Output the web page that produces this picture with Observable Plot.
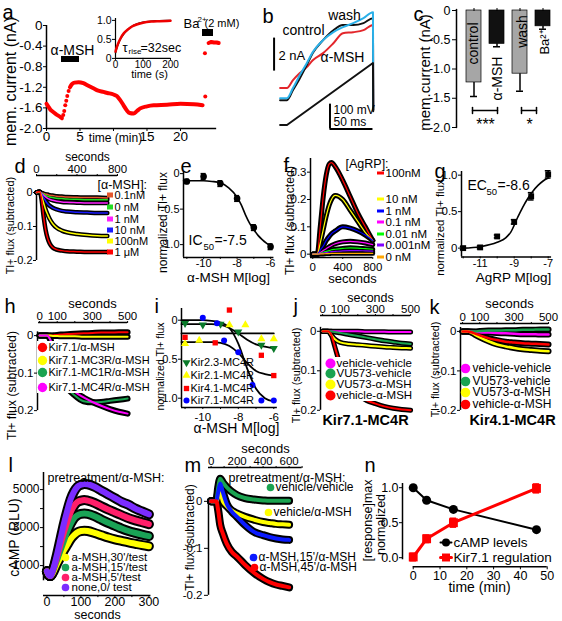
<!DOCTYPE html>
<html><head><meta charset="utf-8">
<script src="https://cdn.jsdelivr.net/npm/d3@7"></script>
<script src="https://cdn.jsdelivr.net/npm/@observablehq/plot@0.6"></script>
<style>
html,body{margin:0;padding:0;background:#fff;}
#root{position:relative;width:562px;height:621px;overflow:hidden;background:#fff;font-family:"Liberation Sans",Arial,sans-serif;}
</style></head>
<body><div id="root"></div>
<script>
// ================= DATA =================
// a: membrane current trace (min, nA)
const aT1 = [0,0.3,0.6,1,1.5,2,2.3];
const aI1 = [-1.52,-1.58,-1.64,-1.68,-1.73,-1.77,-1.8];
const aTgap = [2.5,2.65,2.8,2.95,3.1,3.3];
const aIgap = [-1.74,-1.66,-1.55,-1.46,-1.37,-1.27];
const aT2 = [3.5,3.8,4.2,4.8,5.5,6.1,7,7.6,8.5,9.1,10,10.5,11,11.5,12,12.4,13,13.5,14,15,16,18,20,22,23.3];
const aI2 = [-1.2,-1.14,-1.11,-1.1,-1.12,-1.16,-1.22,-1.26,-1.29,-1.31,-1.34,-1.37,-1.45,-1.55,-1.65,-1.7,-1.71,-1.66,-1.61,-1.57,-1.55,-1.54,-1.52,-1.53,-1.55];
const aTdots = [23.65,23.7];
const aIdots = [-0.54,-1.38];
const aTba = [24.2,24.6,25.0,25.4,25.7];
const aIba = [-0.34,-0.32,-0.33,-0.33,-0.34];
const aYTicks = [0,-0.4,-0.8,-1.2,-1.6,-2.0];
const aXTicks = [0,5,10,15,20];
const aXLabels = [0,5,15,20];
// a inset (s, normalized)
const aInT = [0,5,10,20,30,45,60,80,100,130,160,200];
const aInData = [0.18,0.3,0.4,0.55,0.66,0.76,0.84,0.9,0.94,0.97,0.98,0.99];
const aInFit = [0.15,0.28,0.38,0.53,0.64,0.76,0.84,0.91,0.95,0.98,0.99,1.0];
// b: ramp currents (ms, nA) and voltage (ms, mV)
const bT = [0,8,15,23,31,38,50,62,73,85,97,108,108.3];
const bControl = [0,0,0.61,1.33,2.12,2.85,3.64,4.24,4.55,4.55,4.67,4.97,-0.6];
const bWash = [0.12,0.12,0.73,1.52,2.24,2.91,3.64,4.12,4.42,4.67,4.97,5.33,-0.6];
const bMsh = [0.73,0.73,1.21,1.64,2.0,2.42,2.85,3.45,4.06,4.12,4.24,4.55,-0.6];
const bVT = [0,8,108,108.3];
const bVmV = [-150,-150,100,-95];
// c: bar chart
const cLabels = ["control","α-MSH","wash","Ba²⁺"];
const cMean = [-1.23,-0.57,-1.08,-0.27];
const cErr = [0.24,0.05,0.3,0.05];
const cTicks = [0,-0.5,-1.0,-1.5,-2.0];
// d: Tl+ flux, alpha-MSH doses
const dT = [0,30,50,70,90,110,130,160,200,250,300,400,500,600,700];
const dNames = ["0.1nM","0 nM","1 nM","10 nM","100nM","1 μM"];
const dVals = [
  [0,0.001,-0.001,-0.003,-0.005,-0.006,-0.008,-0.009,-0.011,-0.012,-0.013,-0.014,-0.015,-0.015,-0.016],
  [0,0.001,-0.002,-0.005,-0.008,-0.011,-0.013,-0.015,-0.017,-0.018,-0.019,-0.02,-0.021,-0.021,-0.021],
  [0,0.002,-0.003,-0.008,-0.013,-0.017,-0.02,-0.023,-0.026,-0.028,-0.029,-0.03,-0.031,-0.031,-0.031],
  [0,0.002,-0.005,-0.015,-0.025,-0.033,-0.039,-0.045,-0.05,-0.054,-0.056,-0.058,-0.059,-0.06,-0.06],
  [0,0.002,-0.01,-0.03,-0.05,-0.065,-0.078,-0.092,-0.104,-0.112,-0.117,-0.122,-0.125,-0.127,-0.128],
  [0,0.003,-0.02,-0.07,-0.11,-0.135,-0.15,-0.162,-0.168,-0.171,-0.173,-0.174,-0.175,-0.175,-0.175]
];
// e: dose response alpha-MSH
const eX = [-11,-10,-9,-8,-7,-6];
const eY = [-0.11,-0.04,-0.14,-0.35,-0.76,-1.03];
const eErr = [0.03,0.04,0.04,0.04,0.04,0.04];
const eFitX = [-11.2,-10,-9.5,-9,-8.5,-8,-7.75,-7.5,-7.25,-7,-6.75,-6.5,-6.25,-6];
const eFitY = [-0.1,-0.1,-0.11,-0.13,-0.2,-0.33,-0.44,-0.58,-0.7,-0.79,-0.87,-0.93,-0.98,-1.02];
// f: AgRP traces
const fT = [0,60,100,140,180,220,250,300,400,500,600,700,800];
const fNames = ["100nM","10 nM","1 nM","0.1 nM","0.01 nM","0.001nM","0 nM"];
const fVals = [
  [0,0,0.1,0.21,0.29,0.33,0.335,0.32,0.27,0.21,0.15,0.1,0.05],
  [0,0,0.04,0.09,0.14,0.18,0.2,0.215,0.2,0.16,0.12,0.08,0.05],
  [0,0,0.015,0.03,0.05,0.065,0.075,0.085,0.1,0.095,0.085,0.07,0.05],
  [0,0,0.006,0.013,0.02,0.027,0.032,0.038,0.045,0.047,0.045,0.041,0.035],
  [0,0,0.003,0.007,0.01,0.013,0.016,0.018,0.021,0.023,0.022,0.02,0.018],
  [0,0,0.002,0.004,0.006,0.008,0.009,0.01,0.012,0.013,0.013,0.012,0.011],
  [0,0,0.001,0.001,0.002,0.002,0.003,0.003,0.003,0.003,0.003,0.003,0.003]
];
// g: AgRP dose response
const gX = [-12,-11,-10,-9,-8,-7];
const gY = [0.0,0.01,0.16,0.36,0.71,1.01];
const gErr = [0.02,0.02,0.02,0.03,0.05,0.05];
const gFitX = [-12,-11,-10,-9.5,-9.2,-8.8,-8.5,-8.2,-7.9,-7.6,-7.3,-7];
const gFitY = [0.0,0.02,0.08,0.14,0.22,0.42,0.56,0.68,0.78,0.86,0.92,0.96];
// h
const hT = [0,40,60,80,100,130,160,200,250,300,350,400,450,500];
const hNames = ["Kir7.1/α-MSH","Kir7.1-MC3R/α-MSH","Kir7.1-MC1R/α-MSH","Kir7.1-MC4R/α-MSH"];
const hVals = [
  [0,0,0,0.001,0.002,0.003,0.004,0.005,0.006,0.007,0.008,0.008,0.009,0.009],
  [0,0,0,-0.001,-0.001,-0.002,-0.002,-0.002,-0.003,-0.003,-0.003,-0.003,-0.003,-0.003],
  [0,0,-0.01,-0.04,-0.07,-0.11,-0.14,-0.16,-0.175,-0.178,-0.177,-0.174,-0.171,-0.168],
  [0,0,-0.01,-0.035,-0.06,-0.1,-0.13,-0.15,-0.165,-0.177,-0.187,-0.196,-0.203,-0.208]
];
// i
const iNames = ["Kir2.3-MC4R","Kir2.1-MC4R","Kir4.1-MC4R","Kir7.1-MC4R"];
const iFitX = [-11.2,-10,-9.5,-9,-8.5,-8,-7.5,-7,-6.5,-6];
const iFits = [
  [-0.05,-0.05,-0.05,-0.06,-0.1,-0.17,-0.25,-0.31,-0.34,-0.36],
  [-0.17,-0.17,-0.17,-0.17,-0.17,-0.17,-0.17,-0.17,-0.17,-0.17],
  [-0.28,-0.28,-0.28,-0.29,-0.33,-0.42,-0.55,-0.65,-0.69,-0.71],
  [0.0,0.0,-0.01,-0.03,-0.1,-0.3,-0.62,-0.88,-1.0,-1.04]
];
const iPX = [[-11,-10,-9,-8,-6.7,-6],[-11,-10.2,-8.5,-7.6,-6.7,-6],[-11,-9.3,-8.5,-6.7,-6],[-10,-9.2,-8.8,-8,-7.2,-6.7,-6]];
const iPY = [[-0.04,-0.06,-0.05,-0.15,-0.32,-0.36],[-0.3,-0.26,-0.06,-0.06,-0.24,-0.24],[-0.22,-0.29,0.13,-0.45,-0.71],[0.03,-0.04,-0.26,-0.41,-0.83,-1.03,-1.03]];
// j, k
const jkT = [0,30,50,70,100,150,200,250,300,350,400,450,500];
const jkNames = ["vehicle-vehicle","VU573-vehicle","VU573-α-MSH","vehicle-α-MSH"];
const jVals = [
  [0,0,0,0,0,0,0,-0.001,-0.001,-0.001,-0.002,-0.002,-0.002],
  [0,0,0,-0.002,-0.004,-0.008,-0.012,-0.016,-0.02,-0.024,-0.027,-0.03,-0.032],
  [0,0,-0.01,-0.02,-0.028,-0.032,-0.034,-0.036,-0.038,-0.04,-0.041,-0.042,-0.043],
  [0,0,-0.01,-0.04,-0.085,-0.13,-0.16,-0.175,-0.183,-0.19,-0.195,-0.198,-0.2]
];
const kVals = [
  [0,0,0,-0.001,-0.002,-0.003,-0.004,-0.005,-0.006,-0.007,-0.007,-0.008,-0.008],
  [0,0,0,0,0.001,0.002,0.002,0.003,0.003,0.004,0.004,0.005,0.005],
  [0,0,-0.003,-0.008,-0.015,-0.025,-0.033,-0.038,-0.042,-0.045,-0.047,-0.049,-0.05],
  [0,0,-0.002,-0.005,-0.01,-0.017,-0.022,-0.026,-0.028,-0.03,-0.031,-0.032,-0.033]
];
// l: cAMP
const lT = [0,5,10,20,30,40,50,60,70,80,90,100,110,120,140,160,180,200,220,240,260,280,300];
const lNames = ["a-MSH,30'/test","a-MSH,15'/test","a-MSH,5'/test","none,0/ test"];
const lVals = [
  [700,500,450,700,1100,1450,1800,2100,2400,2600,2750,2820,2840,2820,2720,2600,2480,2380,2300,2220,2150,2080,2020],
  [700,500,450,800,1300,1800,2300,2800,3200,3500,3650,3720,3740,3720,3600,3420,3250,3100,2950,2820,2720,2630,2550],
  [700,500,450,850,1450,2100,2750,3300,3800,4150,4350,4420,4450,4420,4300,4120,3950,3800,3650,3500,3380,3280,3180],
  [700,500,450,900,1600,2400,3200,3900,4500,4900,5150,5250,5300,5280,5150,4950,4750,4550,4350,4200,4000,3850,3700]
];
// m
const mT = [0,40,55,70,90,120,160,200,260,330,400,450,500,550,600];
const mNames = ["vehicle/vehicle","vehicle/α-MSH","α-MSH,15'/α-MSH","α-MSH,45'/α-MSH"];
const mVals = [
  [0,0,0.03,0.048,0.04,0.03,0.02,0.013,0.007,0.004,0.002,0.001,0.001,0.001,0.001],
  [0,0,0.01,0.02,0.0,-0.01,-0.02,-0.026,-0.033,-0.039,-0.044,-0.046,-0.048,-0.049,-0.05],
  [0,0,0.02,0.038,0.02,-0.005,-0.022,-0.033,-0.05,-0.065,-0.072,-0.076,-0.079,-0.081,-0.082],
  [0,0,-0.02,-0.05,-0.068,-0.09,-0.108,-0.118,-0.135,-0.152,-0.165,-0.172,-0.177,-0.18,-0.183]
];
// n
const nT = [0,5,15,46];
const nCamp = [1.0,0.82,0.69,0.4];
const nKir = [0.01,0.27,0.5,0.99];
const nKirErr = [0.05,0.05,0.06,0.06];

// ================= STYLE =================
const dColors = ["#e4572e","#22dd22","#ff22ff","#1a1aff","#ffff00","#ff0000"];
const fColors = ["#ff0000","#ffff00","#0000ff","#ff00ff","#00ff00","#8000ff","#ffa500"];
const hColors = ["#ff0000","#ffff00","#1aa350","#ff00ff"];
const iColors = ["#0a7a2a","#ffff00","#ff0000","#0000ff"];
const jkColors = ["#ff00ff","#1aa350","#ffff00","#ff0000"];
const lColors = ["#ffff00","#1aa356","#ff1f6a","#7b2cff"];
const mColors = ["#1aa350","#ffff00","#0a1aff","#ff0000"];
const cColors = ["#a6a6a6","#111111","#a6a6a6","#111111"];

const FONT = "'Liberation Sans', Arial, Helvetica, sans-serif";
function hasFont(name) {
  const c = document.createElement("canvas").getContext("2d");
  const s = "Kir7.1-MC3R/α-MSH 0123456789 mmmwww";
  c.font = "20px monospace"; const w0 = c.measureText(s).width;
  c.font = "20px '" + name + "', monospace"; const w1 = c.measureText(s).width;
  return Math.abs(w0 - w1) > 0.5;
}
const HAS_NARROW = hasFont("Liberation Sans Narrow");
const NARROW = "'Liberation Sans Narrow', " + FONT;
const STYLE = {background: "transparent", overflow: "visible", fontFamily: FONT};
const root = document.getElementById("root");
function place(svg, left, top) {
  svg.style.position = "absolute"; svg.style.left = left + "px"; svg.style.top = top + "px";
  root.appendChild(svg);
}
const lin = (va, pa, vb, pb) => v => pa + (v - va) * (pb - pa) / (vb - va);
function panel(o) {
  const fx = lin(...o.xr), fy = lin(...o.yr);
  const ml = 50, mr = 20, mt = 25, mb = 30;
  const L = fx(o.xd[0]), Rr = fx(o.xd[1]), B = fy(o.yd[0]), Tp = fy(o.yd[1]);
  const svg = Plot.plot({
    width: Rr - L + ml + mr, height: B - Tp + mt + mb,
    marginLeft: ml, marginRight: mr, marginTop: mt, marginBottom: mb,
    x: {domain: o.xd, axis: null}, y: {domain: o.yd, axis: null},
    color: o.color, style: STYLE, marks: o.marks
  });
  place(svg, L - ml, Tp - mt);
}
const xy = (xs, ys) => xs.map((x, i) => ({x, y: ys[i]}));
const xye = (xs, ys, es) => xs.map((x, i) => ({x, y: ys[i], e: es[i]}));
const long = (t, names, vals) => names.flatMap((s, k) => vals[k].map((v, i) => ({t: t[i], v, s})));
const f1 = v => v === 0 ? "0" : v.toFixed(1);
const only = (list, f = String) => v => list.includes(v) ? f(v) : "";
const axL = (ticks, fmt, fs, o = {}) => Plot.axisY({anchor: "left", ticks, tickFormat: fmt, fontSize: fs, tickSize: 3, tickPadding: 2, label: null, ...o});
const axB = (ticks, fmt, fs, o = {}) => Plot.axisX({anchor: "bottom", ticks, tickFormat: fmt, fontSize: fs, tickSize: 2, tickPadding: 0, label: null, ...o});
const axT = (ticks, fmt, fs, o = {}) => Plot.axisX({anchor: "top", ticks, tickFormat: fmt, fontSize: fs, tickSize: 2, tickPadding: 0, label: null, ...o});
const vline = (x, y1, y2, w = 1.5) => Plot.ruleX([x], {y1, y2, strokeWidth: w});
const hline = (y, x1, x2, w = 1.5) => Plot.ruleY([y], {x1, x2, strokeWidth: w});
const bands = (data, bw, cw) => [
  Plot.line(data, {x: "t", y: "v", z: "s", stroke: "#000", strokeWidth: bw, curve: "monotone-x"}),
  Plot.line(data, {x: "t", y: "v", z: "s", stroke: "s", strokeWidth: cw, curve: "monotone-x"})
];

// ---------- a ----------
panel({xd: [0, 25.4], xr: [0, 46, 20, 180], yd: [-2, 0], yr: [0, 25, -2, 128], marks: [
  vline(0, -2, 0), hline(-2, 0, 25.4),
  axL(aYTicks, f1, 13.5, {tickPadding: 1}),
  axB(aXTicks, only(aXLabels), 13.5, {tickSize: 3}),
  Plot.line(xy(aT1, aI1), {x: "x", y: "y", stroke: "#f00", strokeWidth: 4}),
  Plot.dot(xy(aTgap, aIgap), {x: "x", y: "y", r: 2, fill: "#f00"}),
  Plot.line(xy(aT2, aI2), {x: "x", y: "y", stroke: "#f00", strokeWidth: 4, curve: "monotone-x"}),
  Plot.dot(xy(aTdots, aIdots), {x: "x", y: "y", r: 2, fill: "#f00"}),
  Plot.line(xy(aTba, aIba), {x: "x", y: "y", stroke: "#f00", strokeWidth: 4})
]});
// a inset
panel({xd: [0, 200], xr: [0, 115, 200, 170], yd: [0, 1.05], yr: [0, 58, 1, 20], marks: [
  vline(0, 0, 1.05, 1.2), hline(0, 0, 200, 1.2),
  axL([0, 0.5, 1], f1, 10.5, {tickPadding: 1}),
  axB([0, 100, 200], String, 10),
  Plot.line(xy(aInT, aInFit), {x: "x", y: "y", stroke: "#000", strokeWidth: 1.5, curve: "monotone-x"}),
  Plot.line(xy(aInT, aInData), {x: "x", y: "y", stroke: "#e00", strokeWidth: 2.5, curve: "monotone-x"})
]});

// ---------- b ----------
panel({xd: [-10, 112], xr: [0, 280, 100, 366], yd: [-1.8, 6.1], yr: [0, 100, 2, 67], marks: [
  Plot.ruleX([-7], {y1: 1.76, y2: 3.76, strokeWidth: 2}),
  Plot.line(xy(bT, bMsh), {x: "x", y: "y", stroke: "#e3262b", strokeWidth: 2, curve: "monotone-x"}),
  Plot.line(xy(bT, bControl), {x: "x", y: "y", stroke: "#111", strokeWidth: 2, curve: "monotone-x"}),
  Plot.line(xy(bT, bWash), {x: "x", y: "y", stroke: "#2bb0e8", strokeWidth: 2, curve: "monotone-x"})
]});
panel({xd: [-10, 112], xr: [0, 280, 100, 366], yd: [-170, 110], yr: [-150, 124, 100, 62], marks: [
  Plot.ruleX([58], {y1: -166, y2: -66, strokeWidth: 2}),
  Plot.ruleY([-166], {x1: 58, x2: 108, strokeWidth: 2}),
  Plot.line(xy(bVT, bVmV), {x: "x", y: "y", stroke: "#111", strokeWidth: 2})
]});

// ---------- c ----------
{
  const cData = cLabels.map((label, i) => ({label, mean: cMean[i], err: cErr[i]}));
  const svg = Plot.plot({
    width: 162, height: 137, marginLeft: 56, marginRight: 1, marginTop: 10, marginBottom: 10,
    x: {type: "band", domain: cLabels, paddingInner: 0.33, paddingOuter: 0.38, axis: null},
    y: {domain: [-2, 0], axis: null},
    color: {domain: cLabels, range: cColors},
    style: STYLE,
    marks: [
      Plot.barY(cData, {x: "label", y: "mean", fill: "label", stroke: "#000", strokeWidth: 0.7}),
      Plot.ruleX(cData, {x: "label", y1: "mean", y2: d => d.mean - d.err, strokeWidth: 1.5}),
      Plot.tickY(cData, {x: "label", y: d => d.mean - d.err, insetLeft: 4, insetRight: 4, strokeWidth: 1.5}),
      Plot.axisX({anchor: "top", tickSize: 3, tickFormat: () => "", label: null}),
      axL(cTicks, f1, 12.5, {tickSize: 4})
    ]
  });
  place(svg, 400, 0);
}

// ---------- d ----------
panel({xd: [0, 800], xr: [0, 36, 800, 117], yd: [-0.205, 0.05], yr: [0, 192, -0.2, 260],
  color: {domain: dNames, range: dColors}, marks: [
  vline(0, -0.2, 0.003), hline(0.05, 0, 800),
  axL([0, -0.1, -0.2], f1, 11, {tickPadding: 1}),
  axT([0, 200, 400, 600, 800], only([0, 400, 800]), 11.5),
  ...bands(long(dT, dNames, dVals), 4.5, 1.5)
]});

// ---------- e ----------
panel({xd: [-11.2, -5.8], xr: [-10, 203, -6, 270], yd: [-1.18, 0.03], yr: [0, 173, -1, 244], marks: [
  vline(-11.2, -1.18, 0.03), hline(-1.18, -11.2, -5.8),
  axL([0, -0.5, -1], f1, 11, {tickPadding: 1}),
  axB([-11, -10, -9, -8, -7, -6], only([-10, -8, -6]), 11),
  Plot.line(xy(eFitX, eFitY), {x: "x", y: "y", stroke: "#000", strokeWidth: 1.6, curve: "monotone-x"}),
  Plot.ruleX(xye(eX, eY, eErr), {x: "x", y1: d => d.y - d.e, y2: d => d.y + d.e, strokeWidth: 1.5}),
  Plot.ruleY(xye(eX, eY, eErr), {y: d => d.y - d.e, x1: d => d.x - 0.15, x2: d => d.x + 0.15, strokeWidth: 1.5}),
  Plot.ruleY(xye(eX, eY, eErr), {y: d => d.y + d.e, x1: d => d.x - 0.15, x2: d => d.x + 0.15, strokeWidth: 1.5}),
  Plot.dot(xy(eX, eY), {x: "x", y: "y", r: 3.3, fill: "#000"})
]});

// ---------- f ----------
panel({xd: [-30, 800], xr: [0, 312, 800, 372], yd: [-0.012, 0.35], yr: [0, 254, 0.3, 172],
  color: {domain: fNames, range: fColors}, marks: [
  vline(-30, -0.012, 0.35), hline(-0.012, -30, 800),
  axL([0, 0.1, 0.2, 0.3], f1, 11.5, {tickPadding: 1}),
  axB([0, 400, 800], String, 11.5, {tickPadding: 3}),
  ...bands(long(fT, fNames, fVals), 5, 1.2)
]});

// ---------- g ----------
panel({xd: [-12.1, -6.8], xr: [-11, 480, -7, 548], yd: [-0.12, 1.05], yr: [0, 248, 1, 175], marks: [
  vline(-12.1, -0.12, 1.05), hline(-0.12, -12.1, -6.8),
  axL([0, 0.5, 1], f1, 11.5, {tickPadding: 1}),
  axB([-12, -11, -10, -9, -8, -7], only([-11, -9, -7]), 11),
  Plot.line(xy(gFitX, gFitY), {x: "x", y: "y", stroke: "#000", strokeWidth: 1.6, curve: "monotone-x"}),
  Plot.ruleX(xye(gX, gY, gErr), {x: "x", y1: d => d.y - d.e, y2: d => d.y + d.e, strokeWidth: 1.5}),
  Plot.ruleY(xye(gX, gY, gErr), {y: d => d.y - d.e, x1: d => d.x - 0.17, x2: d => d.x + 0.17, strokeWidth: 1.5}),
  Plot.ruleY(xye(gX, gY, gErr), {y: d => d.y + d.e, x1: d => d.x - 0.17, x2: d => d.x + 0.17, strokeWidth: 1.5}),
  Plot.dot(xy(gX, gY), {x: "x", y: "y", r: 3.3, fill: "#000", symbol: "square"})
]});

// ---------- h ----------
panel({xd: [-12, 500], xr: [0, 39, 500, 127], yd: [-0.205, 0.035], yr: [0, 335, -0.2, 410],
  color: {domain: hNames, range: hColors}, marks: [
  vline(-12, -0.2, 0.01), hline(0.035, -6, 500),
  axL([0, -0.1, -0.2], f1, 11.5, {tickPadding: 1}),
  axT([0, 100, 200, 300, 400, 500], only([0, 100, 300, 500]), 11.5),
  ...bands(long(hT, hNames, hVals), 6, 2)
]});

// ---------- i ----------
{
  const iFitData = iNames.flatMap((s, k) => iFitX.map((x, j) => ({x, y: iFits[k][j], s})));
  const iSyms = ["triangle", "triangle", "square", "circle"];
  const iRot = [180, 0, 0, 0];
  panel({xd: [-11.2, -5.8], xr: [-10, 202, -6, 273], yd: [-1.12, 0.15], yr: [0, 320, -1, 398], marks: [
    vline(-11.2, -1.12, 0.15), hline(-1.12, -11.2, -5.8),
    axL([0, -0.5, -1], f1, 11, {tickPadding: 1}),
    axB([-11, -10, -9, -8, -7, -6], only([-10, -8, -6]), 11.5, {tickPadding: 3}),
    Plot.line(iFitData, {x: "x", y: "y", z: "s", stroke: "#000", strokeWidth: 1.8, curve: "monotone-x"}),
    ...iNames.map((s, k) => Plot.dot(xy(iPX[k], iPY[k]), {x: "x", y: "y", r: 3, fill: iColors[k], symbol: iSyms[k], rotate: iRot[k]}))
  ]});
}

// ---------- j ----------
panel({xd: [-12, 500], xr: [0, 322, 500, 410], yd: [-0.205, 0.04], yr: [0, 331, -0.2, 410],
  color: {domain: jkNames, range: jkColors}, marks: [
  vline(-12, -0.2, 0.01), hline(0.04, -12, 500),
  axL([0, -0.1, -0.2], f1, 11.5, {tickPadding: 1}),
  axT([0, 100, 200, 300, 400, 500], only([0, 100, 300, 500]), 11.5),
  ...bands(long(jkT, jkNames, jVals), 5, 2)
]});

// ---------- k ----------
panel({xd: [-12, 500], xr: [0, 462, 500, 548], yd: [-0.205, 0.02], yr: [0, 331, -0.2, 410],
  color: {domain: jkNames, range: jkColors}, marks: [
  vline(-12, -0.2, 0.01), hline(0.02, -12, 500),
  axL([0, -0.1, -0.2], f1, 11.5, {tickPadding: 1}),
  axT([0, 100, 200, 300, 400, 500], only([0, 100, 300, 500]), 11.5),
  ...bands(long(jkT, jkNames, kVals), 6, 2.5)
]});

// ---------- l ----------
panel({xd: [-10, 306], xr: [0, 46, 300, 148], yd: [-580, 5900], yr: [0, 584, 5000, 489],
  color: {domain: lNames, range: lColors}, marks: [
  vline(-10, 200, 5900), hline(-580, -10, 306),
  axL([1000, 2000, 3000, 4000, 5000], only([1000, 3000, 5000]), 12, {tickPadding: 1}),
  axB([0, 50, 100, 150, 200, 250, 300], only([0, 100, 200, 300]), 12.5),
  ...bands(long(lT, lNames, lVals), 10, 6)
]});

// ---------- m ----------
panel({xd: [-20, 700], xr: [0, 211, 600, 289], yd: [-0.2, 0.072], yr: [0, 501, -0.1, 548],
  color: {domain: mNames, range: mColors}, marks: [
  vline(-20, -0.2, 0.005), hline(0.072, -20, 700),
  axL([0, -0.1, -0.2], f1, 11.5, {tickSize: 4}),
  axT([0, 100, 200, 300, 400, 500, 600, 700], only([0, 200, 400, 600]), 11.5),
  ...bands(long(mT, mNames, mVals), 8, 4)
]});

// ---------- n ----------
panel({xd: [-4, 50.5], xr: [0, 413, 50, 547], yd: [-0.13, 1.06], yr: [0, 557, 1, 487], marks: [
  vline(-4, -0.03, 1.06), hline(-0.13, 0, 50),
  axL([0, 0.5, 1], v => v.toFixed(1), 12.5, {tickPadding: 1}),
  axB([0, 10, 20, 30, 40, 50], String, 12.5, {tickSize: 3, tickPadding: 1}),
  Plot.line(xy(nT, nCamp), {x: "x", y: "y", stroke: "#000", strokeWidth: 2}),
  Plot.dot(xy(nT, nCamp), {x: "x", y: "y", r: 4.5, fill: "#000"}),
  Plot.line(xy(nT, nKir), {x: "x", y: "y", stroke: "#f00", strokeWidth: 3}),
  Plot.ruleX(xye(nT, nKir, nKirErr), {x: "x", y1: d => d.y - d.e, y2: d => d.y + d.e, stroke: "#f00", strokeWidth: 2}),
  Plot.ruleY(xye(nT, nKir, nKirErr), {y: d => d.y - d.e, x1: d => d.x - 1.2, x2: d => d.x + 1.2, stroke: "#f00", strokeWidth: 2}),
  Plot.ruleY(xye(nT, nKir, nKirErr), {y: d => d.y + d.e, x1: d => d.x - 1.2, x2: d => d.x + 1.2, stroke: "#f00", strokeWidth: 2}),
  Plot.dot(xy(nT, nKir), {x: "x", y: "y", r: 5, fill: "#f00", symbol: "square"})
]});

// ================= ANNOTATION LAYER =================
const O = [];
const T = (x, y, s, o = {}) => O.push(Plot.text([{x, y, s}], {x: "x", y: "y", text: "s", fontSize: o.fs ?? 13, textAnchor: o.a ?? "start", fontWeight: o.w ?? "normal", rotate: o.r ?? 0, fill: o.c ?? "#000", fontFamily: o.ff}));
const TN = (x, y, s, fsN, fsR, o = {}) => T(x, y, s, HAS_NARROW ? {...o, fs: fsN, ff: NARROW} : {...o, fs: fsR});
const R = (x1, y1, x2, y2, c = "#000") => O.push(Plot.rect([{x1, y1, x2, y2}], {x1: "x1", y1: "y1", x2: "x2", y2: "y2", fill: c}));
const Ln = (p, w = 1.5, c = "#000") => O.push(Plot.line(p, {x: d => d[0], y: d => d[1], stroke: c, strokeWidth: w}));
const Dt = (x, y, r, c, sym = "circle") => O.push(Plot.dot([{x, y}], {x: "x", y: "y", r, fill: c, symbol: sym}));

// panel letters
[["a",2,12],["b",262,16],["c",413,14],["d",14,166],["e",180,166],["f",283,165],["g",434,171],
 ["h",4,306],["i",154,306],["j",293,306],["k",429,307],["l",8,465],["m",184,465],["n",364,465]]
 .forEach(([s, x, y]) => T(x, y, s, {fs: 20}));

// a
T(10, 81, "mem. current (nA)", {fs: 16, a: "middle", r: -90});
T(72, 50, "α-MSH", {fs: 14, a: "middle"});
R(61, 56, 79, 62);
TN(115, 138, "time (min)", 14.5, 12, {a: "middle"});
T(183, 23, "Ba", {fs: 13}); T(197, 19, "2+", {fs: 8}); T(204, 23, "(2 mM)", {fs: 11});
R(202, 29, 213, 36);
T(122, 47, "τ", {fs: 13}); T(128, 51, "rise", {fs: 8}); T(140, 47, "=32sec", {fs: 12.5});
T(149, 74, "time (s)", {fs: 11, a: "middle"});
// b
T(344, 15, "wash", {fs: 14, a: "middle"});
T(303, 30, "control", {fs: 14, a: "middle"});
T(342, 57, "α-MSH", {fs: 14, a: "middle"});
T(278, 55, "2 nA", {fs: 13});
TN(333, 110, "100 mV", 14, 12);
TN(333, 122, "50 ms", 14, 12);
// c
Ln([[456, 9], [456, 127]], 1.5);
T(425, 72, "mem.current (nA)", {fs: 15, a: "middle", r: -90});
T(473, 43, "control", {fs: 14, a: "middle", r: -90});
T(497, 78, "α-MSH", {fs: 14, a: "middle", r: -90});
T(522, 31, "wash", {fs: 14, a: "middle", r: -90});
T(544, 42, "Ba²⁺", {fs: 13, a: "middle", r: -90});
Ln([[472, 110], [497, 110]]); Ln([[472, 107], [472, 113]]); Ln([[497, 107], [497, 113]]);
Ln([[521, 110], [536, 110]]); Ln([[521, 107], [521, 113]]); Ln([[536, 107], [536, 113]]);
T(485, 124, "***", {fs: 16, a: "middle"}); T(529, 124, "*", {fs: 16, a: "middle"});
// d
T(87, 157, "seconds", {fs: 12, a: "middle"});
T(10, 225, "Tl+ flux (subtracted)", {fs: 11, a: "middle", r: -90});
T(97, 184, "[α-MSH]:", {fs: 12.5});
[195, 207, 219, 230, 241, 252].forEach((y, k) => { R(107, y - 2.5, 113, y + 2.5, dColors[k]); TN(114, y, dNames[k], 12.5, 11); });
// e
T(163, 222, "normalized Tl+ flux", {fs: 12, a: "middle", r: -90});
T(188, 240, "IC", {fs: 14}); T(203, 246, "50", {fs: 9.5}); T(214, 240, "=-7.5", {fs: 14});
T(228, 277, "α-MSH M[log]", {fs: 13.5, a: "middle"});
// f
T(290, 220, "Tl+ flux (subtracted)", {fs: 12.3, a: "middle", r: -90});
T(352, 278, "seconds", {fs: 13, a: "middle"});
T(345, 163, "[AgRP]:", {fs: 12.5});
[173, 199, 211, 222, 234, 245, 257].forEach((y, k) => { R(377, y - 1.5, 384, y + 1.5, fColors[k]); T(385, y, fNames[k], {fs: 11.5}); });
// g
T(440, 227, "normalized Tl+ flux", {fs: 11.5, a: "middle", r: -90});
T(467, 185, "EC", {fs: 14}); T(486, 191, "50", {fs: 9.5}); T(497, 185, "=-8.6", {fs: 14});
T(513, 277, "AgRP M[log]", {fs: 13.5, a: "middle"});
// h
T(92, 303, "seconds", {fs: 13, a: "middle"});
T(12, 385, "Tl+ flux (subtracted)", {fs: 12.3, a: "middle", r: -90});
R(37, 341, 141, 393, "#fff");
[347, 360, 372, 387].forEach((y, k) => { Dt(42, y, 4.7, hColors[k]); TN(48, y, hNames[k], 13, 11); });
// i
T(160, 366, "normalized Tl+ flux", {fs: 10.5, a: "middle", r: -90});
O.push(Plot.dot([{x: 186, y: 362}], {x: "x", y: "y", r: 3, fill: iColors[0], symbol: "triangle", rotate: 180}));
Dt(186, 375, 3, iColors[1], "triangle"); Dt(186, 388, 3, iColors[2], "square"); Dt(186, 400, 3, iColors[3]);
[362, 375, 388, 400].forEach((y, k) => TN(190, y, iNames[k], 12.5, 11));
T(236, 428, "α-MSH M[log]", {fs: 14, a: "middle"});
// j
T(370, 297, "seconds", {fs: 12.5, a: "middle"});
T(296, 375, "Tl+ flux (subtracted)", {fs: 10.8, a: "middle", r: -90});
R(324, 357, 411, 401, "#fff");
[363, 373, 384, 395].forEach((y, k) => { Dt(330, y, 5, jkColors[k]); T(336, y, jkNames[k], {fs: 11.5}); });
T(365, 420, "Kir7.1-MC4R", {fs: 14.5, a: "middle", w: "bold"});
// k
T(509, 303, "seconds", {fs: 13, a: "middle"});
T(435, 369, "Tl+ flux (subtracted)", {fs: 10.8, a: "middle", r: -90});
[368, 381, 392, 404].forEach((y, k) => { Dt(465, y, 4.8, jkColors[k]); T(472, y, jkNames[k], {fs: 12}); });
T(512, 420, "Kir4.1-MC4R", {fs: 14.5, a: "middle", w: "bold"});
// l
T(47, 477, "pretreatment/α-MSH:", {fs: 12.5});
T(14, 537, "cAMP (RLU)", {fs: 14, a: "middle", r: -90});
[557, 567, 577, 587].forEach((y, k) => { Dt(65, y, 3.8, lColors[k]); T(71, y, lNames[k], {fs: 11.5}); });
T(97, 614, "seconds", {fs: 12.5, a: "middle"});
// m
T(265, 448, "seconds", {fs: 13, a: "middle"});
T(228, 477, "pretreatment/α-MSH:", {fs: 12.5});
T(190, 537, "Tl+ flux (subtracted)", {fs: 12, a: "middle", r: -90});
[[270, 487], [268, 512], [253, 557], [254, 567]].forEach(([x, y], k) => { Dt(x, y, 3.8, mColors[k]); T(x + 5, y, mNames[k], {fs: 12}); });
// n
T(367, 520, "[response]max", {fs: 12.5, a: "middle", r: -90});
T(380, 524, "normalized", {fs: 12.5, a: "middle", r: -90});
Ln([[440, 542], [451, 542]], 2); Dt(445.5, 542, 4, "#000");
Ln([[440, 557], [451, 557]], 3, "#f00"); Dt(445.5, 557, 4.5, "#f00", "square");
T(453, 542, "cAMP levels", {fs: 13.5});
T(453, 557, "Kir7.1 regulation", {fs: 13.5});
T(479, 587, "time (min)", {fs: 14, a: "middle"});

place(Plot.plot({
  width: 562, height: 621, margin: 0,
  x: {domain: [0, 562], range: [0, 562], axis: null},
  y: {domain: [0, 621], range: [0, 621], axis: null},
  style: STYLE, marks: O
}), 0, 0);
</script>
</body></html>
